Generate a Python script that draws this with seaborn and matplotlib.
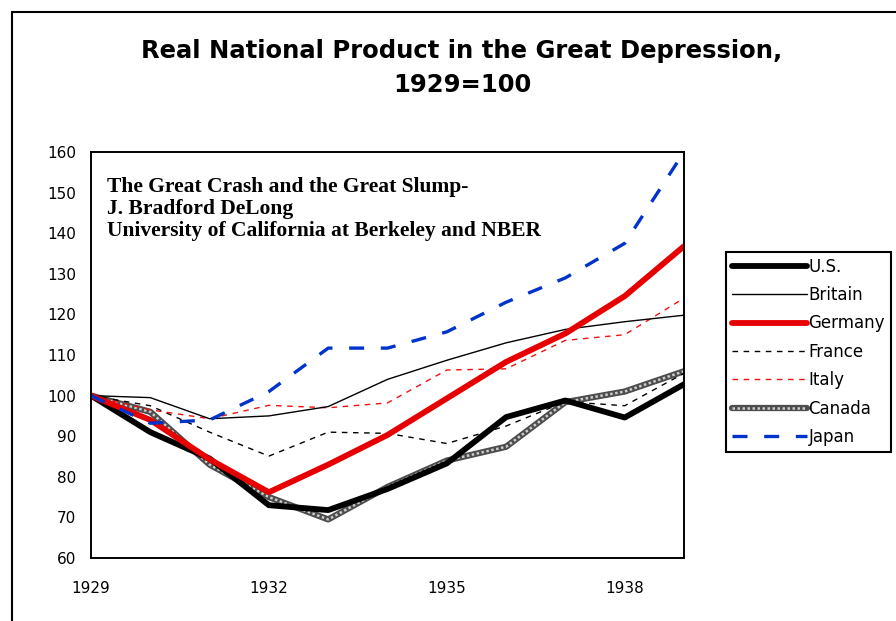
import matplotlib
matplotlib.use('Agg')
import matplotlib.pyplot as plt
import seaborn as sns
from matplotlib.lines import Line2D
from matplotlib.legend_handler import HandlerTuple


# ─────────────────────────────────────────────
# DATA (1929 = 100)
# ─────────────────────────────────────────────
years   = list(range(1929, 1940))
us      = [100, 91.0, 84.5, 73.0, 71.8, 77.0, 83.3, 94.7, 98.8, 94.6, 102.8]
britain = [100, 99.5, 94.3, 95.0, 97.3, 104.0, 108.7, 113.0, 116.3, 118.2, 119.8]
germany = [100, 94.0, 84.3, 76.2, 83.0, 90.3, 99.3, 108.3, 115.3, 124.5, 136.8]
france  = [100, 97.5, 91.0, 85.1, 91.0, 90.7, 88.2, 92.5, 98.5, 97.5, 105.5]
italy   = [100, 96.5, 94.3, 97.6, 97.0, 98.2, 106.3, 106.6, 113.6, 115.0, 124.0]
canada  = [100, 96.0, 83.0, 75.0, 69.5, 77.5, 84.0, 87.4, 98.4, 101.0, 106.0]
japan   = [100, 93.2, 94.0, 101.0, 111.7, 111.7, 115.7, 123.0, 129.0, 137.5, 160.0]

legend_labels = ['U.S.', 'Britain', 'Germany', 'France', 'Italy', 'Canada', 'Japan']
x_labels      = {1929: '1929', 1932: '1932', 1935: '1935', 1938: '1938'}
y_ticks       = list(range(60, 161, 10))

TITLE = 'Real National Product in the Great Depression,\n1929=100'
NOTE  = ('The Great Crash and the Great Slump-\n'
         'J. Bradford DeLong\n'
         'University of California at Berkeley and NBER')


# ─────────────────────────────────────────────
# PLOT
# ─────────────────────────────────────────────
sns.set_style('white')
plt.rcParams['font.family'] = ['DejaVu Sans']
plt.rcParams['text.color'] = 'black'

fig = plt.figure(figsize=(8.96, 6.21), dpi=100)
ax = fig.add_axes([91 / 896, 63 / 621, (684 - 91) / 896, (558 - 152) / 621])

# outer frame of the original picture (cut at right / bottom)
fig.add_artist(Line2D([12 / 896, 12 / 896], [0, 1 - 12 / 621],
                      transform=fig.transFigure, color='black', lw=1.5))
fig.add_artist(Line2D([12 / 896, 1], [1 - 12 / 621, 1 - 12 / 621],
                      transform=fig.transFigure, color='black', lw=1.5))

# Canada: hatched look -> dark thick line with light dotted overlay
sns.lineplot(x=years, y=canada, ax=ax, color='0.3', lw=4.5)
sns.lineplot(x=years, y=canada, ax=ax, color='0.8', lw=1.8,
             linestyle=(0, (1, 1)))
sns.lineplot(x=years, y=france, ax=ax, color='black', lw=1.0,
             linestyle=(0, (4, 4)))
sns.lineplot(x=years, y=italy, ax=ax, color='#ee1111', lw=1.0,
             linestyle=(0, (4, 4)))
sns.lineplot(x=years, y=britain, ax=ax, color='black', lw=1.0)
sns.lineplot(x=years, y=us, ax=ax, color='black', lw=4.2)
sns.lineplot(x=years, y=germany, ax=ax, color='#e60000', lw=4.2)
sns.lineplot(x=years, y=japan, ax=ax, color='#0033cc', lw=2.4,
             linestyle=(0, (4.5, 5)))

ax.set_xlim(1929, 1939)
ax.set_ylim(60, 160)
ax.set_xticks(years)
ax.set_xticklabels([x_labels.get(y, '') for y in years])
ax.set_yticks(y_ticks)
ax.set_xlabel('')
ax.set_ylabel('')
ax.tick_params(direction='inout', length=9, width=1.2, labelsize=11,
               colors='black', pad=6)
ax.tick_params(axis='x', pad=12)
for sp in ax.spines.values():
    sp.set_visible(True)
    sp.set_color('black')
    sp.set_linewidth(1.4)

fig.text(107 / 896, 1 - 177 / 621, NOTE, color='black',
         family='Liberation Serif', weight='bold', fontsize=15.5,
         va='top', ha='left', linespacing=1.15)

fig.text(462 / 896, 1 - 39 / 621, TITLE, ha='center', va='top',
         color='black', fontsize=17.5, weight='bold', linespacing=1.55)

# legend
handles = [
    Line2D([], [], color='black', lw=4.2),
    Line2D([], [], color='black', lw=1.0),
    Line2D([], [], color='#e60000', lw=4.2),
    Line2D([], [], color='black', lw=1.0, linestyle=(0, (4, 4))),
    Line2D([], [], color='#ee1111', lw=1.0, linestyle=(0, (4, 4))),
    (Line2D([], [], color='0.3', lw=4.5),
     Line2D([], [], color='0.8', lw=1.8, linestyle=(0, (1, 1)))),
    Line2D([], [], color='#0033cc', lw=2.4, linestyle=(0, (4.5, 5))),
]
leg = ax.legend(handles, legend_labels, loc='upper left',
                bbox_to_anchor=(726 / 896, 1 - 252 / 621),
                bbox_transform=fig.transFigure, borderaxespad=0,
                handler_map={tuple: HandlerTuple(ndivide=1)},
                fontsize=12, handlelength=4.5, handletextpad=0.1,
                labelspacing=0.62, borderpad=0.35, fancybox=False,
                framealpha=1, edgecolor='black')
leg.get_frame().set_linewidth(1.5)
for t in leg.get_texts():
    t.set_color('black')

plt.savefig('out.png', dpi=100)
plt.close()
